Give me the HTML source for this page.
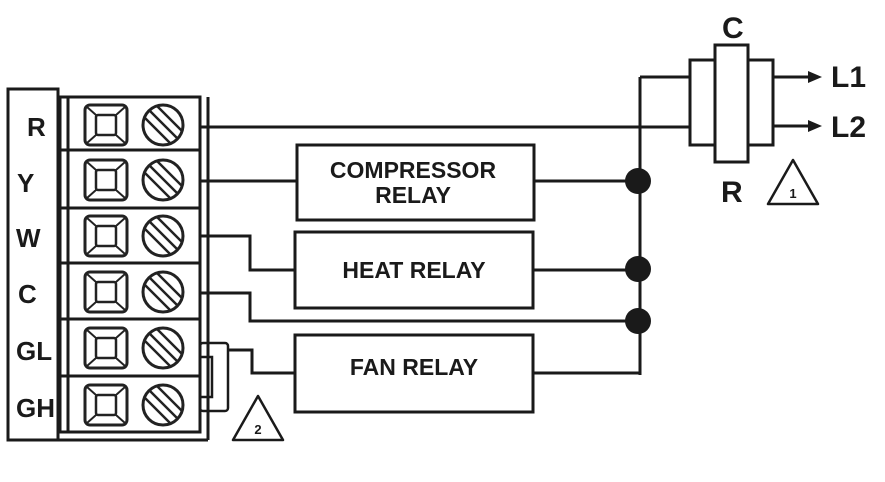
<!DOCTYPE html>
<html><head><style>
html,body{margin:0;padding:0;background:#fff;}
svg{display:block;}
text{font-family:"Liberation Sans",sans-serif;font-weight:bold;fill:#1a1a1a;}
</style></head><body>
<svg width="885" height="482" viewBox="0 0 885 482" xmlns="http://www.w3.org/2000/svg">
<defs>
<g id="term">
 <rect x="85" y="-20" width="42" height="40" rx="5" fill="none" stroke="#222" stroke-width="3"/>
 <rect x="96" y="-10" width="20" height="20" rx="2" fill="none" stroke="#222" stroke-width="2.5"/>
 <line x1="87" y1="-18" x2="96" y2="-10" stroke="#222" stroke-width="2"/>
 <line x1="125" y1="-18" x2="116" y2="-10" stroke="#222" stroke-width="2"/>
 <line x1="87" y1="18" x2="96" y2="10" stroke="#222" stroke-width="2"/>
 <line x1="125" y1="18" x2="116" y2="10" stroke="#222" stroke-width="2"/>
 <circle cx="163" cy="0" r="20" fill="none" stroke="#222" stroke-width="3"/>
 <line x1="150" y1="-14" x2="177" y2="13" stroke="#222" stroke-width="2.5"/>
 <line x1="157" y1="-19" x2="182" y2="6" stroke="#222" stroke-width="2.5"/>
 <line x1="145" y1="-7" x2="170" y2="18" stroke="#222" stroke-width="2.5"/>
</g>
</defs>
<g stroke="#1a1a1a" stroke-width="3" fill="none">
 <rect x="8" y="89" width="50" height="351"/>
 <rect x="60" y="97" width="140" height="335"/>
 <line x1="68" y1="97" x2="68" y2="432"/>
 <line x1="208" y1="97" x2="208" y2="440"/>
 <line x1="58" y1="440" x2="208" y2="440"/>
 <line x1="60" y1="150" x2="200" y2="150"/>
 <line x1="60" y1="208" x2="200" y2="208"/>
 <line x1="60" y1="263" x2="200" y2="263"/>
 <line x1="60" y1="319" x2="200" y2="319"/>
 <line x1="60" y1="376" x2="200" y2="376"/>
 <rect x="200" y="343" width="28" height="68" rx="3" stroke-width="2.5"/>
 <rect x="200" y="357" width="12" height="40" stroke-width="2.5"/>
 <polyline points="200,127 640,127"/>
 <polyline points="200,181 297,181"/>
 <polyline points="200,236 250,236 250,270 295,270"/>
 <polyline points="200,293 250,293 250,321 640,321"/>
 <polyline points="228,350 252,350 252,373 295,373"/>
 <line x1="534" y1="181" x2="640" y2="181"/>
 <line x1="533" y1="270" x2="640" y2="270"/>
 <line x1="533" y1="373" x2="640" y2="373"/>
 <line x1="640" y1="77" x2="640" y2="375"/>
 <line x1="640" y1="77" x2="690" y2="77"/>
 <line x1="640" y1="127" x2="690" y2="127"/>
 <rect x="297" y="145" width="237" height="75"/>
 <rect x="295" y="232" width="238" height="76"/>
 <rect x="295" y="335" width="238" height="77"/>
 <rect x="690" y="60" width="83" height="85"/>
 <rect x="715" y="45" width="33" height="117" fill="#fff"/>
 <line x1="773" y1="77" x2="808" y2="77"/>
 <line x1="773" y1="126" x2="808" y2="126"/>
 <path d="M793,160 L768,204 L818,204 Z" stroke-width="2.5" stroke-linejoin="round"/>
 <path d="M258,396 L233,440 L283,440 Z" stroke-width="2.5" stroke-linejoin="round"/>
</g>
<path d="M808,71 L822,77 L808,83 Z" fill="#1a1a1a"/>
<path d="M808,120 L822,126 L808,132 Z" fill="#1a1a1a"/>
<circle cx="638" cy="181" r="13" fill="#1a1a1a"/>
<circle cx="638" cy="269" r="13" fill="#1a1a1a"/>
<circle cx="638" cy="321" r="13" fill="#1a1a1a"/>
<use href="#term" y="125"/>
<use href="#term" y="180"/>
<use href="#term" y="236"/>
<use href="#term" y="292"/>
<use href="#term" y="348"/>
<use href="#term" y="405"/>
<g font-size="26">
 <text x="27" y="136">R</text>
 <text x="17" y="192">Y</text>
 <text x="16" y="247">W</text>
 <text x="18" y="303">C</text>
 <text x="16" y="360">GL</text>
 <text x="16" y="417">GH</text>
</g>
<g font-size="23" text-anchor="middle">
 <text x="413" y="178">COMPRESSOR</text>
 <text x="413" y="203">RELAY</text>
 <text x="414" y="278">HEAT RELAY</text>
 <text x="414" y="375">FAN RELAY</text>
</g>
<g font-size="30">
 <text x="722" y="38">C</text>
 <text x="721" y="202">R</text>
 <text x="831" y="87">L1</text>
 <text x="831" y="137">L2</text>
</g>
<text x="793" y="198" font-size="13" text-anchor="middle" fill="#555">1</text>
<text x="258" y="434" font-size="13" text-anchor="middle" fill="#555">2</text>
</svg>
</body></html>
